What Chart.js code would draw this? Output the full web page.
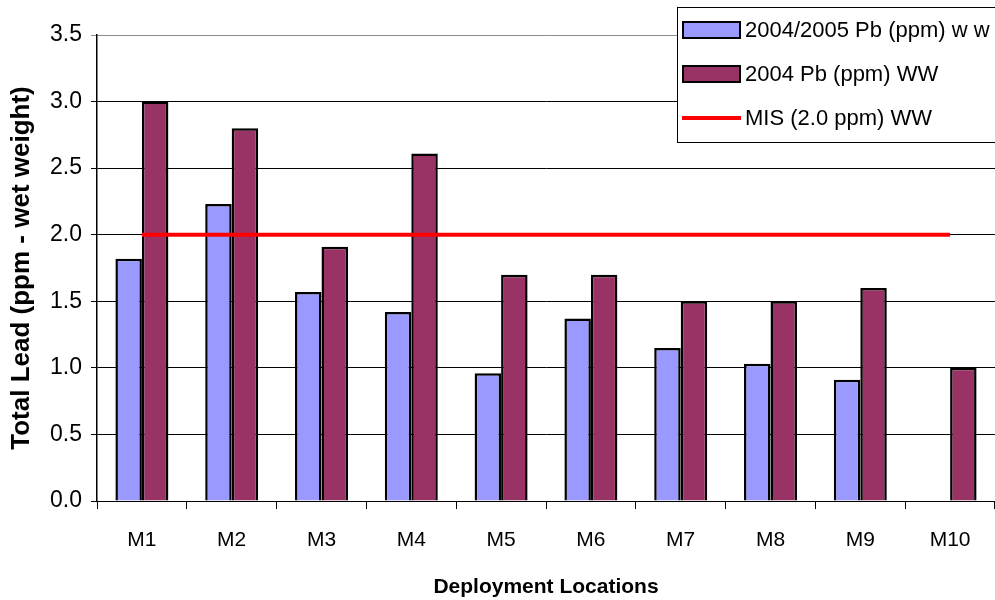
<!DOCTYPE html>
<html>
<head>
<meta charset="utf-8">
<script src="https://cdn.jsdelivr.net/npm/chart.js@4"></script>
<style>
  html, body { margin: 0; padding: 0; background: #fff; }
  #wrap { width: 995px; height: 600px; }
</style>
</head>
<body>
<div id="wrap"><canvas id="myChart"></canvas></div>
<script>
const locations = ['M1', 'M2', 'M3', 'M4', 'M5', 'M6', 'M7', 'M8', 'M9', 'M10'];
const pb0405 = [1.82, 2.23, 1.57, 1.42, 0.96, 1.37, 1.15, 1.03, 0.91, null];
const pb2004 = [3.0, 2.8, 1.91, 2.61, 1.7, 1.7, 1.5, 1.5, 1.6, 1.0];
const misLimit = [2.0, 2.0, 2.0, 2.0, 2.0, 2.0, 2.0, 2.0, 2.0, 2.0];
const yTicks = [0, 0.5, 1, 1.5, 2, 2.5, 3, 3.5];

const FONT = 'Arial, "Liberation Sans", sans-serif';

// legend box drawn over the plot, top right like the original
const boxLegend = {
  id: 'boxLegend',
  afterDraw(chart) {
    const c = chart.ctx;
    const x = 677, y = 7, w = 318, h = 135;
    c.save();
    c.fillStyle = '#fff';
    c.fillRect(x, y, w, h);
    c.strokeStyle = '#000';
    c.lineWidth = 1;
    c.strokeRect(x + 0.5, y + 0.5, w, h);
    c.font = '22px ' + FONT;
    c.textBaseline = 'middle';
    chart.data.datasets.forEach((ds, i) => {
      const cy = y + 23 + i * 44;
      if (ds.type === 'line') {
        c.strokeStyle = ds.borderColor;
        c.lineWidth = 4;
        c.beginPath();
        c.moveTo(x + 5, cy);
        c.lineTo(x + 64, cy);
        c.stroke();
      } else {
        c.fillStyle = ds.backgroundColor;
        c.fillRect(x + 6, cy - 8, 57, 16);
        c.strokeStyle = '#000';
        c.lineWidth = 2;
        c.strokeRect(x + 6, cy - 8, 57, 16);
      }
      c.fillStyle = '#000';
      c.fillText(ds.label, x + 68, cy + 1);
    });
    c.restore();
  }
};

new Chart(document.getElementById('myChart'), {
  type: 'bar',
  data: {
    labels: locations,
    datasets: [
      {
        label: '2004/2005 Pb (ppm) w w',
        data: pb0405,
        backgroundColor: 'rgb(153, 153, 255)',
        borderColor: '#000',
        borderWidth: 2.5,
        categoryPercentage: 0.59,
        barPercentage: 1,
        order: 2,
      },
      {
        label: '2004 Pb (ppm) WW',
        data: pb2004,
        backgroundColor: 'rgb(153, 51, 102)',
        borderColor: '#000',
        borderWidth: 2.5,
        categoryPercentage: 0.59,
        barPercentage: 1,
        order: 2,
      },
      {
        type: 'line',
        label: 'MIS (2.0 ppm) WW',
        data: misLimit,
        borderColor: 'rgb(255, 0, 0)',
        backgroundColor: 'rgb(255, 0, 0)',
        borderWidth: 4,
        pointRadius: 0,
        fill: false,
        order: 1,
      },
    ],
  },
  options: {
    responsive: true,
    maintainAspectRatio: false,
    animation: false,
    layout: { padding: { top: 35, right: 0, left: 0, bottom: 0 } },
    plugins: {
      legend: { display: false },
      tooltip: { enabled: false },
    },
    scales: {
      x: {
        offset: true,
        grid: {
          offset: true,
          drawOnChartArea: false,
          drawTicks: true,
          tickLength: 8,
          color: '#000',
        },
        border: { color: '#000', width: 1 },
        ticks: {
          color: '#000',
          font: { family: FONT, size: 21 },
          padding: 19,
          maxRotation: 0,
        },
        title: {
          display: true,
          text: 'Deployment Locations',
          color: '#000',
          font: { family: FONT, size: 21, weight: 'bold' },
          padding: { top: 12, bottom: 0 },
        },
        afterFit(scale) { scale.height = 99; },
      },
      y: {
        min: 0,
        max: 3.5,
        afterBuildTicks(scale) {
          scale.ticks = yTicks.map(v => ({ value: v }));
        },
        grid: {
          color: ctx => (ctx.tick && ctx.tick.value === 3.5 ? '#8c8c8c' : '#000'),
          lineWidth: 1,
          tickLength: 6,
        },
        border: { color: '#000', width: 1.5 },
        ticks: {
          color: '#000',
          font: { family: FONT, size: 23 },
          padding: 9,
          callback: v => Number(v).toFixed(1),
        },
        title: {
          display: true,
          text: 'Total Lead (ppm - wet weight)',
          color: '#000',
          font: { family: FONT, size: 26, weight: 'bold' },
          padding: { top: 6, bottom: 0 },
        },
        afterFit(scale) { scale.width = 97; },
      },
    },
  },
  plugins: [boxLegend],
});
</script>
</body>
</html>
